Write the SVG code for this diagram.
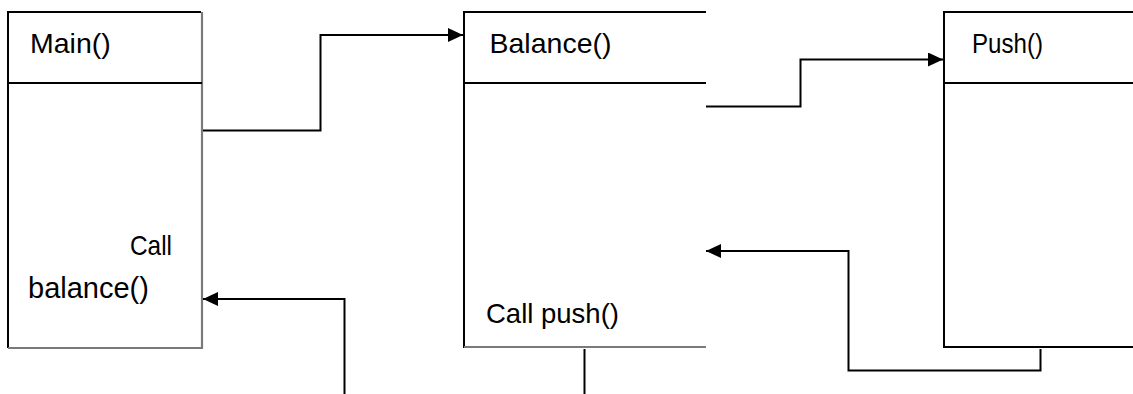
<svg xmlns="http://www.w3.org/2000/svg" width="1133" height="394" viewBox="0 0 1133 394">
<style>
.dark{stroke:#000;stroke-width:2;fill:none}
.grey{stroke:#7a7a7a;stroke-width:2.2;fill:none}
.conn{stroke:#000;stroke-width:2;fill:none}
text{font-family:"Liberation Sans",Arial,sans-serif;fill:#000}
</style>
<defs>
<marker id="arr" viewBox="0 0 10 10" refX="10" refY="5" markerWidth="15" markerHeight="14" preserveAspectRatio="none" markerUnits="userSpaceOnUse" orient="auto">
<path d="M0,0 L10,5 L0,10 Z" fill="#000"/>
</marker>
</defs>
<rect width="1133" height="394" fill="#fff"/>
<g id="main">
<path class="dark" d="M8,348 V12 H201"/>
<path class="grey" d="M202,12 V348 H8"/>
<line class="dark" x1="8" y1="83" x2="202" y2="83"/>
<text x="30" y="53" font-size="28.5">Main()</text>
<text x="130" y="255" font-size="28.5" textLength="42" lengthAdjust="spacingAndGlyphs">Call</text>
<text x="28" y="298" font-size="29">balance()</text>
</g>
<g id="balance">
<path class="dark" d="M464,348 V12 H706"/>
<path class="grey" d="M464,347 H706"/>
<line class="dark" x1="464" y1="83" x2="706" y2="83"/>
<text x="489.5" y="53" font-size="28.5">Balance()</text>
<text x="486" y="323" font-size="27.5">Call push()</text>
</g>
<g id="push">
<path class="dark" d="M944,348 V12 H1133"/>
<path class="dark" d="M944,347 H1133"/>
<line class="dark" x1="944" y1="83" x2="1133" y2="83"/>
<text x="972" y="53" font-size="28.5" textLength="71" lengthAdjust="spacingAndGlyphs">Push()</text>
</g>
<g id="connectors">
<polyline class="conn" points="203,130.5 320.5,130.5 320.5,35 463,35" marker-end="url(#arr)"/>
<polyline class="conn" points="706,106.5 800.5,106.5 800.5,59.5 943,59.5" marker-end="url(#arr)"/>
<polyline class="conn" points="1040.5,349 1040.5,370.5 848.5,370.5 848.5,251 706,251" marker-end="url(#arr)"/>
<polyline class="conn" points="344.5,394 344.5,299 203,299" marker-end="url(#arr)"/>
<line class="conn" x1="584.5" y1="349" x2="584.5" y2="394"/>
</g>
</svg>
